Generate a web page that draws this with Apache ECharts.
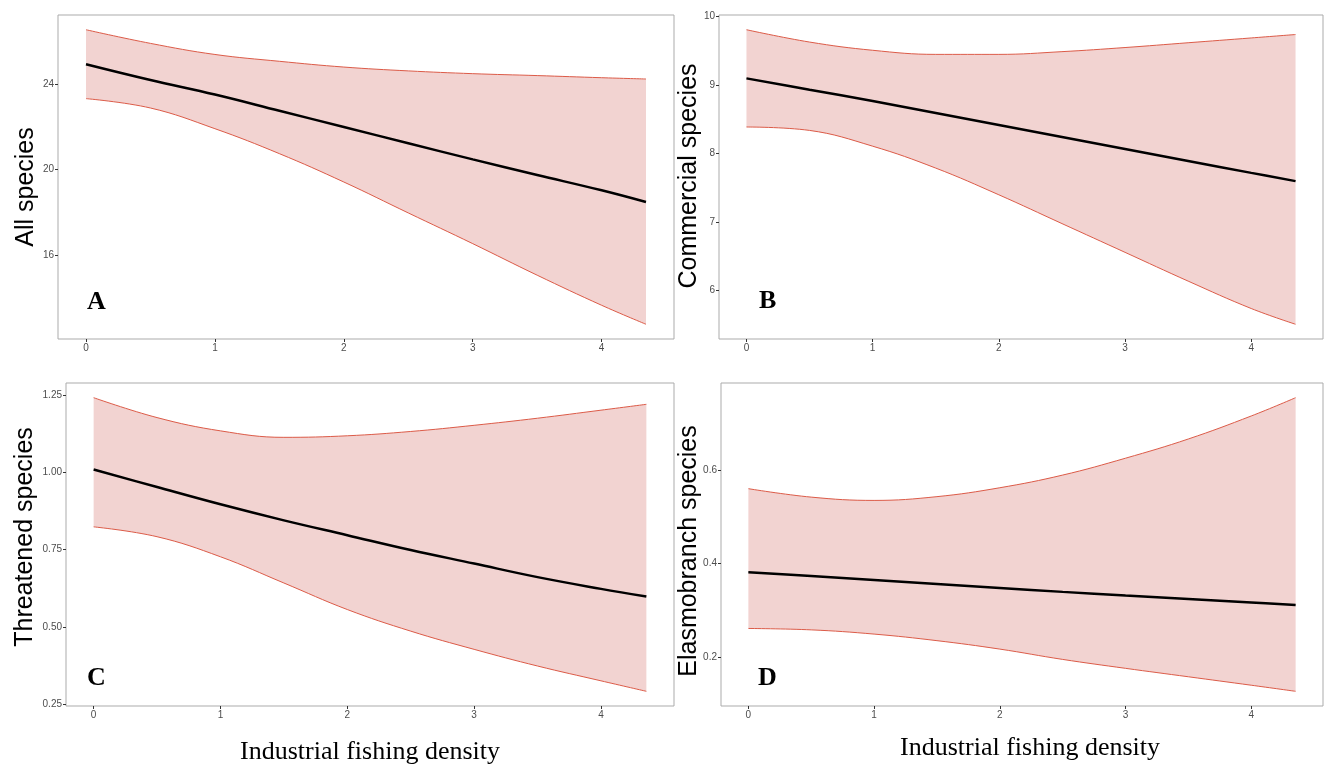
<!DOCTYPE html>
<html>
<head>
<meta charset="utf-8">
<script src="https://cdn.jsdelivr.net/npm/echarts@6/dist/echarts.min.js"></script>
<style>html,body{margin:0;padding:0;background:#fff}#c{width:1325px;height:764px}</style>
</head>
<body>
<div id="c"></div>
<script>
// ---- Data ----
const xTicks = [0, 1, 2, 3, 4];

const xA = [0, 0.5, 1, 1.5, 2, 2.5, 3, 3.5, 4, 4.344];
const upperA = [26.56, 25.92, 25.4, 25.08, 24.81, 24.63, 24.50, 24.41, 24.31, 24.25];
const lowerA = [23.33, 22.89, 21.92, 20.75, 19.42, 17.97, 16.53, 15.05, 13.64, 12.75];
const fitA   = [24.94, 24.2, 23.52, 22.76, 22.0, 21.24, 20.48, 19.75, 19.03, 18.48];
const yTicksA = [16, 20, 24];

const xB = [0, 0.5, 1, 1.5, 2, 2.5, 3, 3.5, 4, 4.351];
const upperB = [9.81, 9.63, 9.51, 9.45, 9.45, 9.49, 9.55, 9.62, 9.69, 9.74];
const lowerB = [8.39, 8.34, 8.11, 7.79, 7.40, 6.98, 6.56, 6.14, 5.74, 5.51];
const fitB   = [9.10, 8.935, 8.77, 8.595, 8.42, 8.245, 8.07, 7.895, 7.72, 7.60];
const yTicksB = [6, 7, 8, 9, 10];

const xC = [0, 0.5, 1, 1.5, 2, 2.5, 3, 3.5, 4, 4.358];
const upperC = [1.2425, 1.178, 1.135, 1.114, 1.119, 1.133, 1.153, 1.176, 1.202, 1.221];
const lowerC = [0.824, 0.792, 0.727, 0.642, 0.556, 0.486, 0.427, 0.373, 0.325, 0.291];
const fitC   = [1.01, 0.953, 0.897, 0.845, 0.797, 0.749, 0.705, 0.661, 0.623, 0.598];
const yTicksC = [0.25, 0.5, 0.75, 1.0, 1.25];

const xD = [0, 0.5, 1, 1.5, 2, 2.5, 3, 3.5, 4, 4.353];
const upperD = [0.560, 0.542, 0.535, 0.543, 0.562, 0.589, 0.625, 0.666, 0.715, 0.754];
const lowerD = [0.262, 0.259, 0.250, 0.236, 0.218, 0.196, 0.177, 0.159, 0.141, 0.128];
const fitD   = [0.382, 0.374, 0.3654, 0.357, 0.3485, 0.340, 0.3323, 0.325, 0.3175, 0.312];
const yTicksD = [0.2, 0.4, 0.6];

const yTitles = ['All species', 'Commercial species', 'Threatened species', 'Elasmobranch species'];
const panelLetters = ['A', 'B', 'C', 'D'];
const xTitle = 'Industrial fishing density';

// ---- Build ----
const panels = [
  {x: xA, up: upperA, lo: lowerA, fit: fitA, yt: yTicksA, fmt: v => String(v)},
  {x: xB, up: upperB, lo: lowerB, fit: fitB, yt: yTicksB, fmt: v => String(v)},
  {x: xC, up: upperC, lo: lowerC, fit: fitC, yt: yTicksC, fmt: v => v.toFixed(2)},
  {x: xD, up: upperD, lo: lowerD, fit: fitD, yt: yTicksD, fmt: v => v.toFixed(1)}
];
const grids = [
  {left: 58, top: 15, width: 616, height: 324},
  {left: 719, top: 15, width: 604, height: 324},
  {left: 66, top: 383, width: 608, height: 323},
  {left: 721, top: 383, width: 602, height: 323}
];
const RED = '#dc5b48';
const FILL = '#f2d3d1';
const FRAME = '#ababab';
const labelStyle = {fontSize: 10, color: '#4d4d4d', fontFamily: 'Liberation Sans'};

const xAxes = [], yAxes = [], series = [];
panels.forEach((p, i) => {
  const xEnd = p.x[p.x.length - 1];
  const lo = Math.min(...p.lo), hi = Math.max(...p.up), span = hi - lo;
  xAxes.push({
    type: 'value', gridIndex: i, min: -0.05 * xEnd, max: xEnd * 1.05,
    axisLine: {show: false, onZero: false}, splitLine: {show: false},
    axisTick: {show: true, length: 3, lineStyle: {color: '#333'}, customValues: xTicks},
    axisLabel: Object.assign({customValues: xTicks, margin: 4}, labelStyle)
  });
  yAxes.push({
    type: 'value', gridIndex: i, min: lo - 0.05 * span, max: hi + 0.05 * span,
    axisLine: {show: false, onZero: false}, splitLine: {show: false},
    axisTick: {show: true, length: 3, lineStyle: {color: '#333'}, customValues: p.yt},
    axisLabel: Object.assign({customValues: p.yt, margin: 4, formatter: p.fmt}, labelStyle)
  });
  // ribbon: lower bound, then (upper - lower) stacked on it with a fill.
  // Values are stored as [y, x] with encode so that the stacked dimension is y.
  series.push({
    type: 'line', xAxisIndex: i, yAxisIndex: i, stack: 'band' + i, smooth: 0.4,
    encode: {x: 1, y: 0},
    symbol: 'none', silent: true, z: 2,
    lineStyle: {color: RED, width: 1},
    data: p.x.map((v, k) => [p.lo[k], v])
  });
  series.push({
    type: 'line', xAxisIndex: i, yAxisIndex: i, stack: 'band' + i, smooth: 0.4,
    encode: {x: 1, y: 0},
    symbol: 'none', silent: true, z: 2,
    lineStyle: {color: RED, width: 1},
    areaStyle: {color: FILL, opacity: 1},
    data: p.x.map((v, k) => [p.up[k] - p.lo[k], v])
  });
  // fitted line
  series.push({
    type: 'line', xAxisIndex: i, yAxisIndex: i, smooth: 0.4,
    symbol: 'none', silent: true, z: 4,
    lineStyle: {color: '#000', width: 2.5},
    data: p.x.map((v, k) => [v, p.fit[k]])
  });
});

const yTitlePos = [[26, 187], [689, 176], [25, 537], [689, 551]];
const letterPos = [[87, 302], [759, 301], [87, 678], [758, 678]];
const graphic = [];
yTitles.forEach((t, i) => graphic.push({
  type: 'text', x: yTitlePos[i][0], y: yTitlePos[i][1], rotation: Math.PI / 2, z: 100,
  style: {text: t, font: '25px "Liberation Sans"', fill: '#000',
    align: 'center', verticalAlign: 'middle', textAlign: 'center', textVerticalAlign: 'middle'}
}));
panelLetters.forEach((t, i) => graphic.push({
  type: 'text', x: letterPos[i][0], y: letterPos[i][1], z: 100,
  style: {text: t, font: 'bold 26px "Liberation Serif"', fill: '#000',
    align: 'left', verticalAlign: 'middle', textAlign: 'left', textVerticalAlign: 'middle'}
}));
[[370, 752], [1030, 748]].forEach(pos => graphic.push({
  type: 'text', x: pos[0], y: pos[1], z: 100,
  style: {text: xTitle, font: '26px "Liberation Serif"', fill: '#000',
    align: 'center', verticalAlign: 'middle', textAlign: 'center', textVerticalAlign: 'middle'}
}));

const chart = echarts.init(document.getElementById('c'), null, {renderer: 'canvas'});
chart.setOption({
  animation: false,
  backgroundColor: '#fff',
  grid: grids.map(g => Object.assign({show: true, borderColor: FRAME, borderWidth: 1, backgroundColor: 'transparent'}, g)),
  xAxis: xAxes,
  yAxis: yAxes,
  series: series,
  graphic: graphic
});
</script>
</body>
</html>
